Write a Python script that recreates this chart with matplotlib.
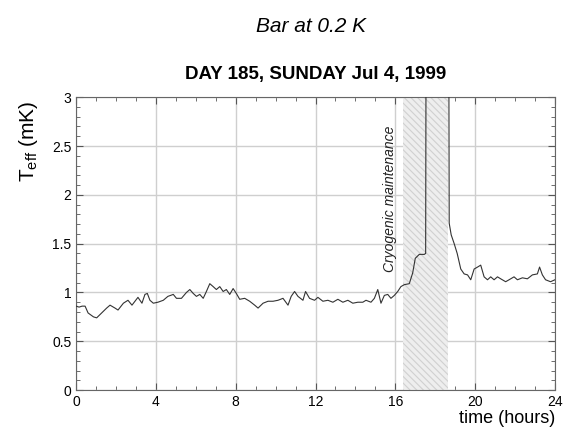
import matplotlib
matplotlib.use('Agg')
import matplotlib.pyplot as plt
from matplotlib.ticker import MultipleLocator

plt.rcParams['font.family'] = ['Liberation Sans', 'DejaVu Sans']
plt.rcParams['mathtext.fontset'] = 'custom'
plt.rcParams['mathtext.rm'] = 'Liberation Sans'
plt.rcParams['mathtext.it'] = 'Liberation Sans:italic'
plt.rcParams['hatch.color'] = '#d0d0d0'
plt.rcParams['hatch.linewidth'] = 0.8

# effective temperature of the bar over the day (hours, mK)
hours = [0.0, 0.15, 0.3, 0.45, 0.6, 0.87, 1.03, 1.28, 1.53, 1.7, 1.95, 2.1,
         2.37, 2.6, 2.8, 2.95, 3.1, 3.3, 3.45, 3.57, 3.7, 3.87, 4.1, 4.37,
         4.6, 4.87, 5.03, 5.28, 5.53, 5.7, 5.87, 6.03, 6.2, 6.37, 6.53, 6.7,
         6.87, 7.03, 7.2, 7.37, 7.53, 7.7, 7.87, 8.03, 8.2, 8.45, 8.7, 8.95,
         9.12, 9.37, 9.62, 9.87, 10.12, 10.37, 10.62, 10.78, 10.95, 11.12,
         11.37, 11.5, 11.7, 11.95, 12.12, 12.37, 12.62, 12.87, 13.12, 13.37,
         13.62, 13.87, 14.12, 14.37, 14.53, 14.78, 14.95, 15.12, 15.28, 15.45,
         15.62, 15.78, 15.95, 16.12, 16.28, 16.45, 16.7, 16.87, 17.0, 17.2,
         17.45, 17.52, 17.54, 18.68, 18.7, 18.8, 18.95, 19.1, 19.28, 19.45,
         19.62, 19.78, 19.95, 20.12, 20.28, 20.45, 20.62, 20.78, 20.95, 21.12,
         21.28, 21.53, 21.7, 21.95, 22.12, 22.37, 22.62, 22.87, 23.12, 23.23,
         23.37, 23.53, 23.78, 24.0]
t_eff = [0.86, 0.85, 0.86, 0.86, 0.79, 0.75, 0.74, 0.79, 0.84, 0.87, 0.84, 0.82,
         0.89, 0.92, 0.87, 0.91, 0.95, 0.89, 0.98, 0.99, 0.92, 0.89, 0.90, 0.92,
         0.96, 0.98, 0.94, 0.94, 1.00, 1.03, 0.99, 0.96, 0.98, 0.94, 1.01, 1.09,
         1.06, 1.03, 1.06, 1.01, 1.03, 0.98, 1.04, 0.99, 0.93, 0.94, 0.91, 0.87,
         0.84, 0.89, 0.91, 0.91, 0.92, 0.94, 0.87, 0.96, 1.01, 0.96,
         0.92, 1.01, 0.94, 0.92, 0.95, 0.91, 0.92, 0.90, 0.93, 0.90,
         0.92, 0.89, 0.90, 0.90, 0.92, 0.90, 0.94, 1.03, 0.89, 0.97,
         0.98, 0.94, 0.97, 1.01, 1.06, 1.08, 1.09, 1.20, 1.35, 1.39,
         1.39, 1.40, 3.60, 3.60, 1.71, 1.59, 1.50, 1.40, 1.24, 1.19,
         1.18, 1.13, 1.24, 1.26, 1.28, 1.16, 1.13, 1.16, 1.13, 1.16,
         1.14, 1.11, 1.13, 1.16, 1.13, 1.15, 1.14, 1.18, 1.19, 1.26,
         1.18, 1.13, 1.11, 1.13]

# cryogenic maintenance window (hours)
maint_start = 16.4
maint_end = 18.65

fig = plt.figure(figsize=(5.68, 4.32), dpi=100)
ax = fig.add_axes([0.134, 0.097, 0.843, 0.678])

ax.axvspan(maint_start, maint_end, facecolor='#eeeeee', edgecolor='#d0d0d0',
           hatch='\\\\\\\\\\', linewidth=0, zorder=1)
ax.plot(hours, t_eff, color='#333333', linewidth=0.8, zorder=3)

ax.set_xlim(0, 24)
ax.set_ylim(0, 3)
ax.xaxis.set_major_locator(MultipleLocator(4))
ax.xaxis.set_minor_locator(MultipleLocator(1))
ax.yaxis.set_major_locator(MultipleLocator(0.5))
ax.yaxis.set_minor_locator(MultipleLocator(0.1))
ax.yaxis.set_major_formatter(plt.FuncFormatter(lambda v, p: f'{v:g}'))
ax.tick_params(which='both', direction='in', top=True, right=True,
               labelsize=10, color='#555555')
ax.tick_params(which='major', length=5)
ax.tick_params(which='minor', length=3)
ax.grid(True, which='major', color='#cfcfcf', linewidth=1.0, zorder=0)
ax.set_axisbelow(True)
for s in ax.spines.values():
    s.set_color('#666666')

ax.text(15.75, 2.71, 'Cryogenic maintenance', rotation=90, ha='center',
        va='top', style='italic', fontsize=10, color='#222222', zorder=4)

ax.set_xlabel('time (hours)', loc='right', fontsize=13, labelpad=1)
ax.set_ylabel(r'T$_{\mathregular{eff}}$ (mK)', fontsize=15, loc='top')
ax.yaxis.set_label_coords(-0.075, 0.99)

# titles centred over the plotting area
ax.text(0.49, 1.242, 'Bar at 0.2 K', transform=ax.transAxes,
        ha='center', va='center', style='italic', fontsize=15)
ax.text(0.5, 1.078, 'DAY 185, SUNDAY Jul 4, 1999', transform=ax.transAxes,
        ha='center', va='center', fontweight='bold', fontsize=13.5)

fig.savefig('out.png', dpi=100)
